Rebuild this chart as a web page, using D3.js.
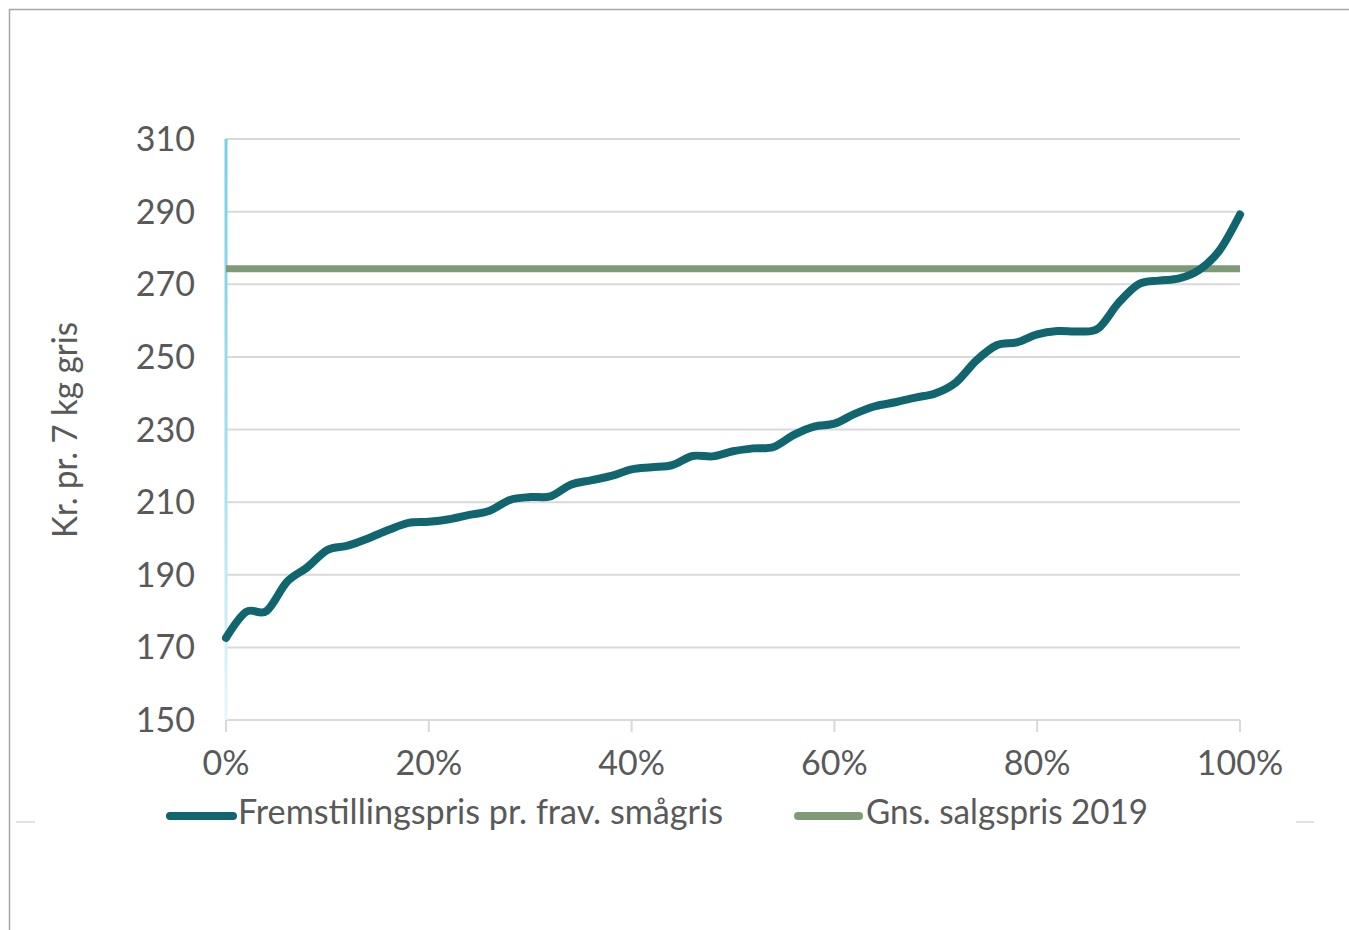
<!DOCTYPE html>
<html>
<head>
<meta charset="utf-8">
<script src="https://cdn.jsdelivr.net/npm/d3@7"></script>
<style>
  body { margin: 0; background: #fff; }
  text { font-family: Lato, "Open Sans", sans-serif; fill: #595959; }
</style>
</head>
<body>
<div id="container"></div>
<script>
// share of producers (%) and production price per 7 kg piglet
var shares = d3.range(0, 101, 2);
var prices = [172.6, 179.8, 180.0, 188.0, 192.0, 196.8, 198.0, 200.0, 202.3, 204.3,
              204.6, 205.3, 206.5, 207.6, 210.6, 211.4, 211.6, 214.8, 216.0, 217.2,
              219.0, 219.6, 220.2, 222.7, 222.6, 224.0, 224.8, 225.2, 228.5, 230.8,
              231.6, 234.3, 236.4, 237.5, 238.8, 240.0, 243.0, 249.0, 253.2, 254.0,
              256.2, 257.1, 257.0, 257.8, 264.8, 270.0, 271.0, 271.6, 274.0, 279.4,
              289.2];
var avgPrice = 274.3;
var yTicks = [150, 170, 190, 210, 230, 250, 270, 290, 310];
var xTicks = [0, 20, 40, 60, 80, 100];
var seriesNames = ["Fremstillingspris pr. frav. smågris", "Gns. salgspris 2019"];

var width = 1349,
    height = 930;

var svg = d3.select("#container").append("svg")
  .attr("width", width)
  .attr("height", height);

// outer frame (right and bottom edges fall outside the picture)
svg.append("rect")
  .attr("x", 9.5).attr("y", 9.5)
  .attr("width", 1400).attr("height", 1000)
  .attr("fill", "none")
  .attr("stroke", "#a6a6a6")
  .attr("stroke-width", 1.5);

var x = d3.scaleLinear().domain([0, 100]).range([226, 1240]);
var y = d3.scaleLinear().domain([150, 310]).range([720, 139]);

// gridlines
svg.append("g")
  .selectAll("line")
  .data(yTicks)
  .enter().append("line")
  .attr("x1", x(0)).attr("x2", x(100))
  .attr("y1", function(d) { return y(d); })
  .attr("y2", function(d) { return y(d); })
  .attr("stroke", "#d9d9d9")
  .attr("stroke-width", 2);

// x axis ticks (downwards)
svg.append("g")
  .selectAll("line")
  .data(xTicks)
  .enter().append("line")
  .attr("x1", function(d) { return x(d); })
  .attr("x2", function(d) { return x(d); })
  .attr("y1", y(150)).attr("y2", y(150) + 12)
  .attr("stroke", "#d9d9d9")
  .attr("stroke-width", 2);

// y axis line, light blue fading downwards
var grad = svg.append("defs").append("linearGradient")
  .attr("id", "axisFade")
  .attr("x1", 0).attr("y1", 0).attr("x2", 0).attr("y2", 1);
grad.append("stop").attr("offset", "0%").attr("stop-color", "#74d0ea");
grad.append("stop").attr("offset", "60%").attr("stop-color", "#a8e0f0");
grad.append("stop").attr("offset", "100%").attr("stop-color", "#e8f7fb");

svg.append("rect")
  .attr("x", x(0) - 1.5).attr("y", y(310))
  .attr("width", 3).attr("height", y(150) - y(310))
  .attr("fill", "url(#axisFade)");

// tick labels
svg.append("g")
  .selectAll("text")
  .data(yTicks)
  .enter().append("text")
  .attr("x", 195)
  .attr("y", function(d) { return y(d) + 12; })
  .attr("text-anchor", "end")
  .style("font-size", "34px")
  .text(function(d) { return d; });

svg.append("g")
  .selectAll("text")
  .data(xTicks)
  .enter().append("text")
  .attr("x", function(d) { return x(d); })
  .attr("y", 775)
  .attr("text-anchor", "middle")
  .style("font-size", "34px")
  .text(function(d) { return d + "%"; });

// y axis title
svg.append("text")
  .attr("transform", "translate(77,430) rotate(-90)")
  .attr("text-anchor", "middle")
  .attr("textLength", 216)
  .attr("lengthAdjust", "spacingAndGlyphs")
  .style("font-size", "34px")
  .text("Kr. pr. 7 kg gris");

// average sales price
svg.append("line")
  .attr("x1", x(0)).attr("x2", x(100))
  .attr("y1", y(avgPrice)).attr("y2", y(avgPrice))
  .attr("stroke", "#7e9a77")
  .attr("stroke-width", 7);

// production price curve
var line = d3.line()
  .x(function(d, i) { return x(shares[i]); })
  .y(function(d) { return y(d); })
  .curve(d3.curveCatmullRom.alpha(0));

svg.append("path")
  .datum(prices)
  .attr("d", line)
  .attr("fill", "none")
  .attr("stroke", "#10656e")
  .attr("stroke-width", 8)
  .attr("stroke-linecap", "round");

// legend
var legend = [
  {name: seriesNames[0], color: "#10656e", x0: 170, x1: 233, tx: 238, tw: 485},
  {name: seriesNames[1], color: "#7e9a77", x0: 798, x1: 859, tx: 866, tw: 282}
];
var lg = svg.append("g").selectAll("g")
  .data(legend)
  .enter().append("g");
lg.append("line")
  .attr("x1", function(d) { return d.x0; })
  .attr("x2", function(d) { return d.x1; })
  .attr("y1", 816).attr("y2", 816)
  .attr("stroke", function(d) { return d.color; })
  .attr("stroke-width", 8)
  .attr("stroke-linecap", "round");
lg.append("text")
  .attr("x", function(d) { return d.tx; })
  .attr("y", 824)
  .attr("textLength", function(d) { return d.tw; })
  .attr("lengthAdjust", "spacingAndGlyphs")
  .style("font-size", "35px")
  .text(function(d) { return d.name; });

// little leftover edge marks of the plot frame
svg.append("line").attr("x1", 16).attr("x2", 35).attr("y1", 822).attr("y2", 822)
  .attr("stroke", "#d9d9d9").attr("stroke-width", 1.5);
svg.append("line").attr("x1", 1296).attr("x2", 1314).attr("y1", 822).attr("y2", 822)
  .attr("stroke", "#d9d9d9").attr("stroke-width", 1.5);
</script>
</body>
</html>
